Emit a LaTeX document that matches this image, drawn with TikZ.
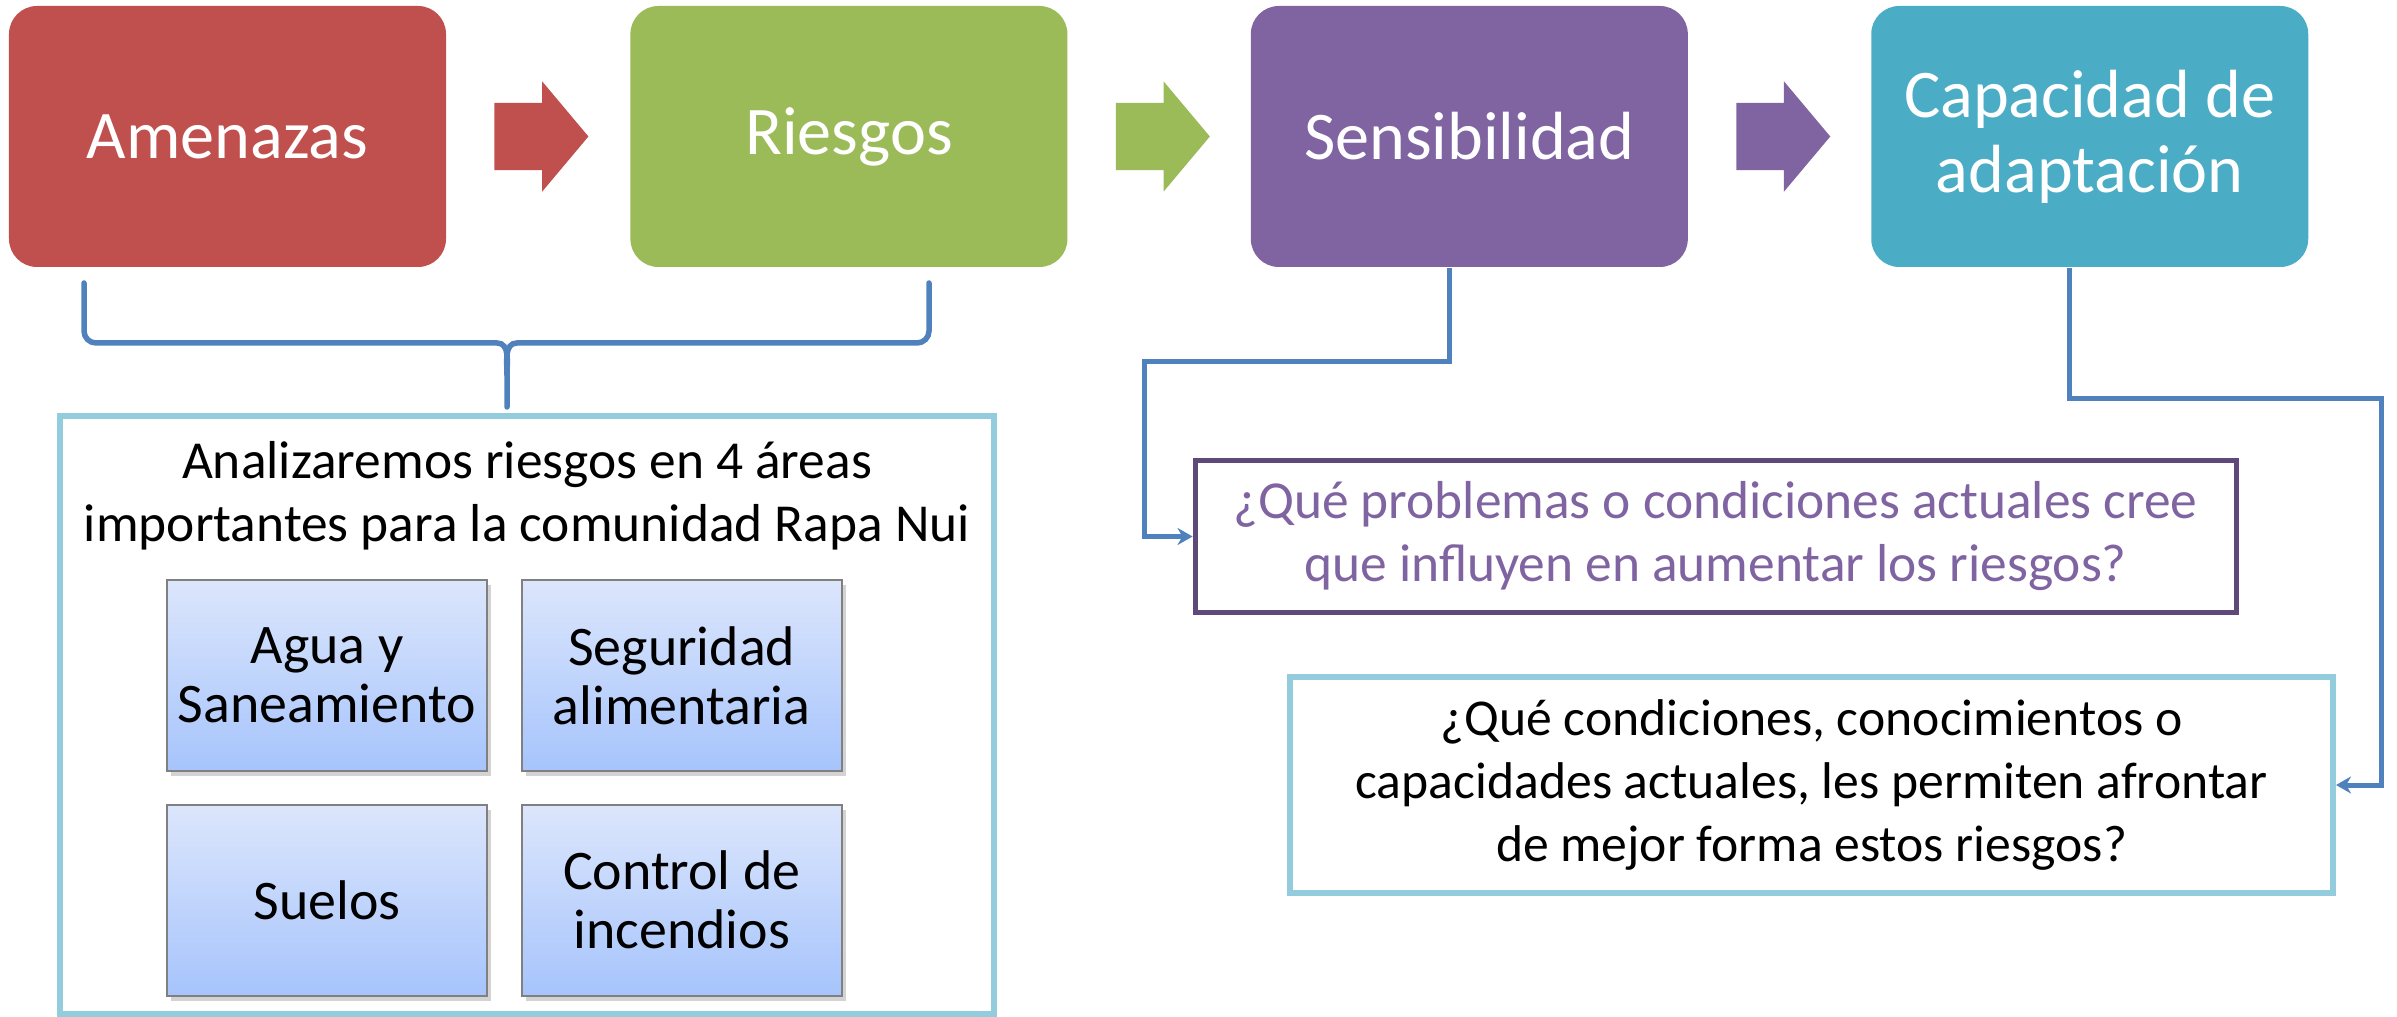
\documentclass[tikz,border=0pt]{standalone}
\usepackage{fontspec}
\setmainfont{Carlito}
\usetikzlibrary{shapes,arrows.meta,positioning,shadows}

\definecolor{rojo}{HTML}{C0504D}
\definecolor{verde}{HTML}{9BBB59}
\definecolor{morado}{HTML}{8064A2}
\definecolor{moradoosc}{HTML}{5F497A}
\definecolor{turquesa}{HTML}{4BACC6}
\definecolor{celeste}{HTML}{93CDDD}
\definecolor{azul}{HTML}{4F81BD}
\definecolor{azulclaro}{HTML}{DCE6FC}
\definecolor{azulmedio}{HTML}{A6C4FC}

\tikzstyle{etapa} = [rectangle,rounded corners=.28cm,minimum width=4.37cm,minimum height=2.61cm,inner sep=0,text=white,align=center,font=\fontsize{19.4}{21.3}\selectfont]
\tikzstyle{flecha} = [single arrow,minimum height=.94cm,single arrow head extend=.215cm,single arrow tip angle=100,inner xsep=0,inner ysep=.33cm]
\tikzstyle{marco} = [draw=celeste,line width=.055cm,rectangle,inner sep=0]
\tikzstyle{area} = [draw=black!50,line width=.5pt,top color=azulclaro,bottom color=azulmedio,minimum width=3.2cm,minimum height=1.91cm,inner sep=0,align=center,drop shadow={shadow xshift=.04cm,shadow yshift=-.05cm,opacity=.35},font=\fontsize{15.9}{16.8}\selectfont]
\tikzstyle{conector} = [draw=azul,line width=.05cm,-{Stealth[length=.15cm,width=.17cm]}]
\tikzstyle{llave} = [draw=azul,line width=.055cm,line cap=round]
\def \tx {\fontsize{15.2}{17.9}\selectfont}

\begin{document}
\begin{tikzpicture}
      \useasboundingbox (0,0) rectangle (23.97,-10.17);
      \node[etapa,fill=rojo] (amenazas) at (2.275,-1.365) {Amenazas};
      \node[etapa,fill=verde,right=1.83cm of amenazas] (riesgos) {Riesgos};
      \node[etapa,fill=morado,right=1.82cm of riesgos] (sensib) {Sensibilidad};
      \node[etapa,fill=turquesa,right=1.82cm of sensib] (capac) {Capacidad de\\adaptación};
      \node[flecha,fill=rojo,right=.47cm of amenazas] (f1) {};
      \node[flecha,fill=verde,right=.47cm of riesgos] (f2) {};
      \node[flecha,fill=morado,right=.47cm of sensib] (f3) {};
      \draw[llave] (0.84,-2.83) -- (0.84,-3.31) to[out=-90,in=180] (0.96,-3.43) -- (4.97,-3.43) to[out=0,in=90] (5.07,-3.75) -- (5.07,-4.07);
      \draw[llave] (9.29,-2.83) -- (9.29,-3.31) to[out=-90,in=0] (9.17,-3.43) -- (5.17,-3.43) to[out=180,in=90] (5.07,-3.75);
      \node[marco,minimum width=9.34cm,minimum height=5.98cm] (analisis) at (5.27,-7.15) {};
      \node[align=center,font=\tx,inner sep=0] (titulo) at (5.27,-4.96) {Analizaremos riesgos en 4 áreas\\importantes para la comunidad Rapa Nui};
      \node[area] (agua) at (3.27,-6.755) {Agua y\\Saneamiento};
      \node[area,right=.33cm of agua] (segur) {Seguridad\\alimentaria};
      \node[area,below=.32cm of agua] (suelos) {Suelos};
      \node[area,below=.32cm of segur] (incend) {Control de\\incendios};
      \node[draw=moradoosc,line width=.05cm,minimum width=10.41cm,minimum height=1.51cm,inner sep=0,align=center,text=morado,font=\tx] (pregsens) at (17.155,-5.365) {¿Qué problemas o condiciones actuales cree\\que influyen en aumentar los riesgos?};
      \node[marco,line width=.06cm,minimum width=10.43cm,minimum height=2.16cm,align=center,font=\fontsize{14.7}{17.9}\selectfont] (pregcap) at (18.115,-7.85) {¿Qué condiciones, conocimientos o\\capacidades actuales, les permiten afrontar\\de mejor forma estos riesgos?};
      \draw[conector] ([xshift=-.2cm]sensib.south) -- ++(0,-.94) -| ([xshift=-.48cm]pregsens.west) -- (pregsens.west);
      \draw[conector] ([xshift=-.2cm]capac.south) -- ++(0,-1.31) -| ([xshift=.45cm]pregcap.east) -- (pregcap.east);
    \end{tikzpicture}
\end{document}
